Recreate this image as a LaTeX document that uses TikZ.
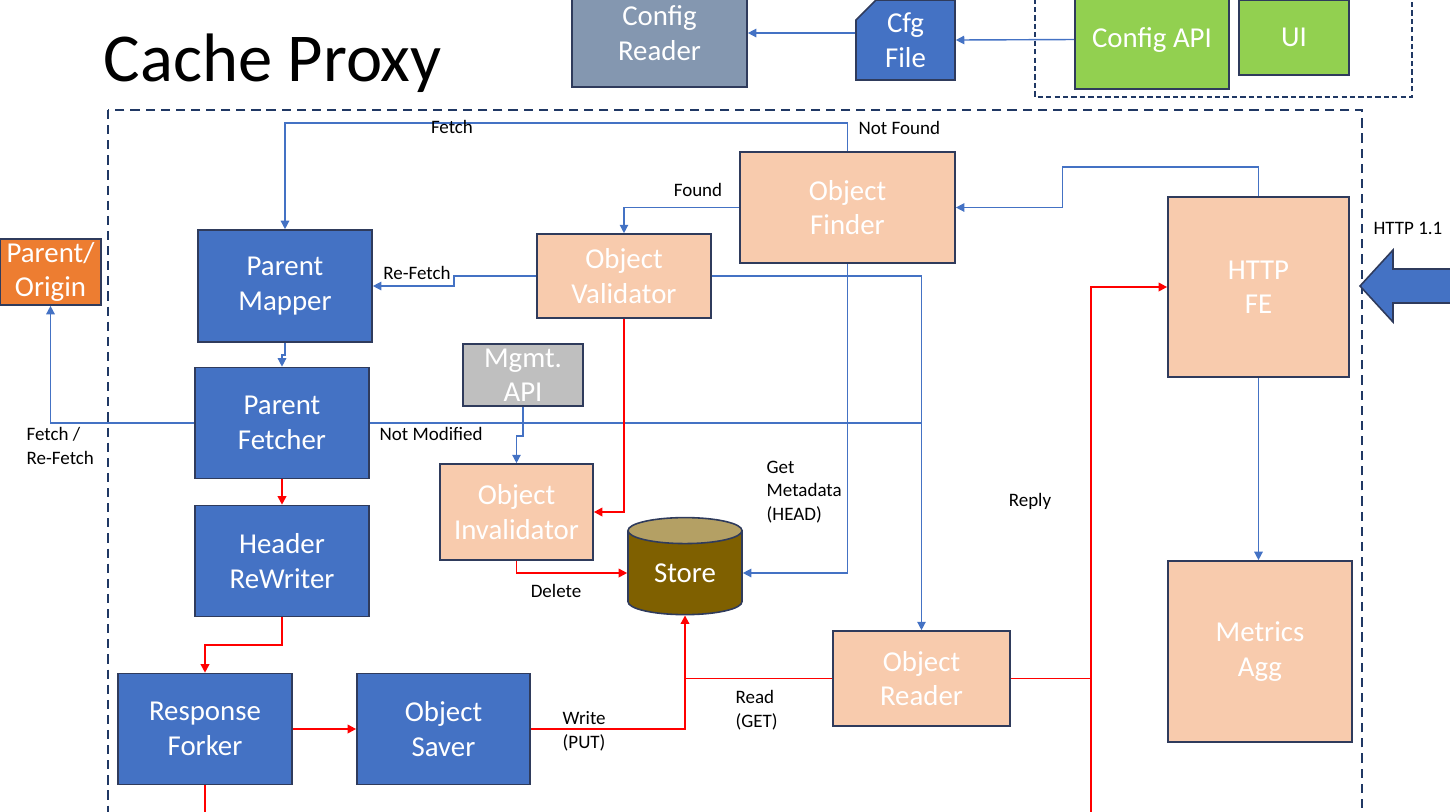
\documentclass[tikz,border=0pt]{standalone}
\usepackage{fontspec}
\setmainfont{Carlito}
\usetikzlibrary{arrows.meta,shapes.geometric,shapes.misc}

\definecolor{boxblue}{HTML}{4472C4}
\definecolor{peach}{HTML}{F8CBAD}
\definecolor{slate}{HTML}{8497B0}
\definecolor{leaf}{HTML}{92D050}
\definecolor{rust}{HTML}{ED7D31}
\definecolor{mgray}{HTML}{BFBFBF}
\definecolor{edgenavy}{HTML}{2F3B5C}
\definecolor{dashnavy}{HTML}{203864}
\definecolor{olive}{HTML}{7F6000}
\definecolor{tanlid}{HTML}{B4A064}

\begin{document}
\begin{tikzpicture}[x=0.01cm, y=-0.01cm,
	box/.style={draw=edgenavy, line width=0.45pt, text=white, align=center, font=\fontsize{8.2}{9.8}\selectfont, inner sep=0pt},
	lbl/.style={font=\fontsize{5.4}{6.7}\selectfont, inner sep=0pt, align=left},
	link/.style={draw=boxblue, line width=0.4pt, -{Triangle[length=2.4pt,width=2.4pt]}},
	hot/.style={draw=red, line width=0.55pt, -{Triangle[length=2.4pt,width=2.4pt]}},
	]
		\useasboundingbox (0,0) rectangle (1450,811);
		\clip (0,0) rectangle (1450,811);

		% frames
		\draw[dashnavy, line width=0.45pt, dash pattern=on 1.5pt off 0.9pt] (1035,-10) rectangle (1412,97);
		\draw[dashnavy, line width=0.75pt, dash pattern=on 2.6pt off 1.7pt] (108,110) rectangle (1362,830);
		\draw (103,81) node[anchor=base west, inner sep=0pt, font=\fontsize{19.5}{23}\selectfont] (title) {Cache Proxy};

		% config side
		\draw (659.5,33) node[box, fill=slate, minimum width=1.75cm, minimum height=1.08cm] (cr) {Config\\Reader};
		\draw (905.5,40) node[box, fill=boxblue, minimum width=0.99cm, minimum height=0.80cm, chamfered rectangle, chamfered rectangle corners=north west, chamfered rectangle sep=0.1cm] (cf) {Cfg\\File};
		\draw (1152,39.5) node[box, fill=leaf, minimum width=1.54cm, minimum height=0.99cm] (capi) {Config API};
		\draw (1294,37.5) node[box, fill=leaf, minimum width=1.10cm, minimum height=0.75cm] (ui) {UI};

		% blue boxes
		\draw (50.5,272) node[box, fill=rust, minimum width=1.01cm, minimum height=0.66cm] (po) {Parent/\\Origin};
		\draw (285,286) node[box, fill=boxblue, minimum width=1.74cm, minimum height=1.12cm] (pm) {Parent\\Mapper};
		\draw (282,423) node[box, fill=boxblue, minimum width=1.74cm, minimum height=1.11cm] (pf) {Parent\\Fetcher};
		\draw (282,561) node[box, fill=boxblue, minimum width=1.74cm, minimum height=1.11cm] (hr) {Header\\ReWriter};
		\draw (205,729) node[box, fill=boxblue, minimum width=1.74cm, minimum height=1.11cm] (rf) {Response\\Forker};
		\draw (443.5,729) node[box, fill=boxblue, minimum width=1.73cm, minimum height=1.11cm] (os) {Object\\Saver};

		% peach boxes
		\draw (624,276) node[box, fill=peach, minimum width=1.74cm, minimum height=0.84cm] (ov) {Object\\Validator};
		\draw (847.5,207.5) node[box, fill=peach, minimum width=2.15cm, minimum height=1.11cm] (of) {Object\\Finder};
		\draw (1258.5,287) node[box, fill=peach, minimum width=1.81cm, minimum height=1.80cm] (fe) {HTTP\\FE};
		\draw (1260,651.5) node[box, fill=peach, minimum width=1.84cm, minimum height=1.81cm] (ma) {Metrics\\Agg};
		\draw (516.5,512) node[box, fill=peach, minimum width=1.53cm, minimum height=0.96cm] (oi) {Object\\Invalidator};
		\draw (921.5,678.5) node[box, fill=peach, minimum width=1.77cm, minimum height=0.95cm] (or) {Object\\Reader};
		\draw (523,375) node[box, fill=mgray, minimum width=1.20cm, minimum height=0.62cm] (mg) {Mgmt.\\API};

		% store
		\draw (685,573) node[box, shape=cylinder, shape border rotate=90, aspect=0.42, cylinder uses custom fill, cylinder body fill=olive, cylinder end fill=tanlid, minimum width=1.14cm, minimum height=0.97cm] (st) {Store};

		% request in
		\filldraw[fill=boxblue, draw=edgenavy, line width=0.45pt] (1360,286) -- (1393,250) -- (1393,269) -- (1470,269) -- (1470,303) -- (1393,303) -- (1393,322) -- cycle;

		% blue links
		\draw[link] (cf.west |- cr.east) -- (cr.east);
		\draw[link] (capi.west) -- (cf.east);
		\draw[link] (of.north) -- ++(0,-28) -| (pm.north);
		\draw[link] (of.west) -| (ov.north);
		\draw[link] (ov.west) -- ++(-82,0) |- (pm.east);
		\draw[link] (pm.south) -- ++(0,12) -| (pf.north);
		\draw[link] (pf.west) -| (po.south);
		\draw[draw=boxblue, line width=0.4pt] (pf.east) -- (pf.east -| or.north);
		\draw[link] (ov.east) -| (or.north);
		\draw[link] (of.south) |- (st.east);
		\draw[link] (fe.north) -- ++(0,-29) -- ++(-196,0) |- (of.east);
		\draw[link] (fe.south) -- (fe.south |- ma.north);
		\draw[link] (mg.south) -- ++(0,29) -| (oi.north);

		% red links
		\draw[hot] (ov.south) |- (oi.east);
		\draw[hot] (oi.south) |- (st.west);
		\draw[hot] (pf.south) -- (hr.north);
		\draw[hot] (hr.south) -- ++(0,28) -| (rf.north);
		\draw[hot] (rf.east) -- (os.west);
		\draw[hot] (os.east) -| (st.south);
		\draw[draw=red, line width=0.55pt] (or.west) -- (or.west -| st.south);
		\draw[hot] (or.east) -- ++(80,0) coordinate (rj) |- (fe.west);
		\draw[draw=red, line width=0.55pt] (rj) -- ++(0,160);
		\draw[draw=red, line width=0.55pt] (rf.south) -- ++(0,50);

		% labels
		\draw (452,127) node[lbl] (lfetch) {Fetch};
		\draw (858,128) node[lbl, anchor=west] (lnf) {Not Found};
		\draw (698,190) node[lbl] (lfound) {Found};
		\draw (417,273) node[lbl] (lref) {Re-Fetch};
		\draw (26,446) node[lbl, anchor=west] (lfr) {Fetch /\\Re-Fetch};
		\draw (379,434) node[lbl, anchor=west] (lnm) {Not Modified};
		\draw (766,492) node[lbl, anchor=west] (lhead) {Get\\Metadata\\(HEAD)};
		\draw (556,591) node[lbl] (ldel) {Delete};
		\draw (1030,501) node[lbl] (lrep) {Reply};
		\draw (562,731) node[lbl, anchor=west] (lput) {Write\\(PUT)};
		\draw (735,710) node[lbl, anchor=west] (lget) {Read\\(GET)};
		\draw (1408,228) node[lbl] (lhttp) {HTTP 1.1};
	\end{tikzpicture}
\end{document}
